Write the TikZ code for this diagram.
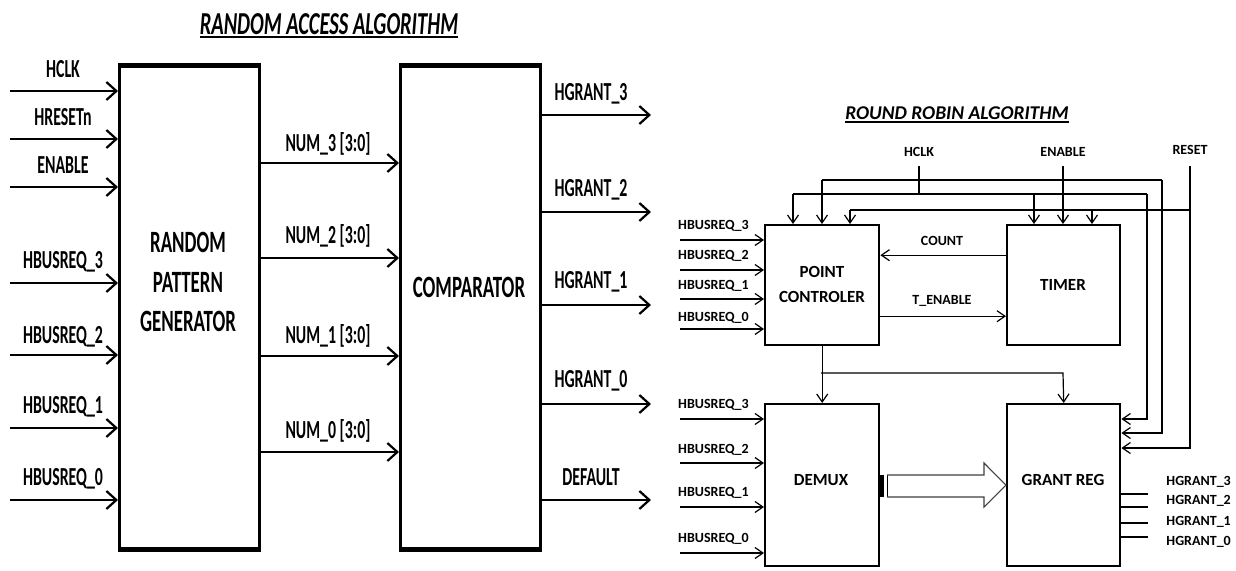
\documentclass[tikz,border=0pt]{standalone}
\usepackage{fontspec}
\setmainfont{Carlito}
\newfontfamily\condf{Carlito}[FakeStretch=0.61]
\newfontfamily\titf{Carlito}[FakeStretch=0.64]
\newfontfamily\normf{Carlito}
\usetikzlibrary{arrows.meta}
\begin{document}
\begin{tikzpicture}[x=1pt,y=-1pt,
  lbox/.style={draw, line width=2.8pt, inner sep=0pt, anchor=north west},
  rbox/.style={draw, line width=2.4pt, inner sep=0pt, anchor=north west},
  arrL/.style={line width=2.6pt, -{Straight Barb[length=10pt,width=18pt,line width=2.2pt]}},
  arrR/.style={line width=1.2pt, -{Straight Barb[length=8pt,width=11pt,line width=1.2pt]}},
  wire/.style={line width=1.2pt},
  llab/.style={font=\condf\bfseries\fontsize{26}{26}\selectfont, inner sep=0pt, text height=16pt, text depth=0pt},
  lbig/.style={font=\condf\bfseries\fontsize{31}{31}\selectfont, inner sep=0pt, text height=19pt, text depth=0pt},
  ltitle/.style={font=\titf\bfseries\itshape\fontsize{32}{32}\selectfont, inner sep=0pt, text height=20pt, text depth=0pt},
  rtitle/.style={font=\normf\bfseries\itshape\fontsize{19.5}{19.5}\selectfont, inner sep=0pt, text height=12.5pt, text depth=0pt},
  rlab/.style={font=\normf\bfseries\fontsize{14}{14}\selectfont, inner sep=0pt, text height=9pt, text depth=0pt},
  rbig/.style={font=\normf\bfseries\fontsize{17}{17}\selectfont, inner sep=0pt, text height=11pt, text depth=0pt},
]
\useasboundingbox (0,0) rectangle (1236,570);
\fill[white] (0,0) rectangle (1236,570);

% ================= RANDOM ACCESS ALGORITHM =================
\node[ltitle] (t1) at (329,24) {RANDOM ACCESS ALGORITHM};
\draw[line width=2pt] ([yshift=-3pt]t1.south west) -- ([yshift=-3pt]t1.south east);

\node[lbox, minimum width=140pt, minimum height=482pt] (rpg) at (118,65) {};
\node[lbox, minimum width=140pt, minimum height=482pt] (cmp) at (399,65) {};
\draw[line width=3.6pt] (rpg.north west) -- (rpg.north east);
\draw[line width=3.6pt] (rpg.south west) -- (rpg.south east);
\draw[line width=3.6pt] (cmp.north west) -- (cmp.north east);
\draw[line width=3.6pt] (cmp.south west) -- (cmp.south east);

\node[lbig] (rpg1) at (188,243) {RANDOM};
\node[lbig] (rpg2) at (188,283) {PATTERN};
\node[lbig] (rpg3) at (188,322) {GENERATOR};
\node[lbig] (cmpt) at (469,288) {COMPARATOR};

\foreach \n/\t/\ly/\ay in {a/HCLK/69/91, b/HRESETn/117/139, c/ENABLE/165/187,
  d/HBUSREQ\_3/260/283, e/HBUSREQ\_2/335/355, f/HBUSREQ\_1/405/428, g/HBUSREQ\_0/477/500} {
  \node[llab] (l\n) at (63,\ly) {\t};
  \coordinate (s\n) at (10,\ay);
  \draw[arrL] (s\n) -- (s\n -| rpg.west);
}

\foreach \n/\ly/\ay in {3/143/163, 2/235/258, 1/335/356, 0/430/452} {
  \node[llab] (nl\n) at (328,\ly) {NUM\_\n{} [3:0]};
  \coordinate (n\n) at (258,\ay);
  \draw[arrL] (n\n) -- (n\n -| cmp.west);
}

\foreach \n/\t/\ly/\ay in {3/HGRANT\_3/92/115, 2/HGRANT\_2/188/212, 1/HGRANT\_1/280/305,
  0/HGRANT\_0/379/404, d/DEFAULT/477/500} {
  \node[llab] (ol\n) at (591,\ly) {\t};
  \coordinate (os\n) at (539,\ay);
  \coordinate (oe\n) at (651,\ay);
  \draw[arrL] (os\n) -- (oe\n);
}

% ================= ROUND ROBIN ALGORITHM =================
\node[rtitle] (t2) at (957,113) {ROUND ROBIN ALGORITHM};
\draw[line width=1.6pt] ([yshift=-2.5pt]t2.south west) -- ([yshift=-2.5pt]t2.south east);

\node[rbox, minimum width=114pt, minimum height=120pt] (pc) at (764,224) {};
\node[rbox, minimum width=113pt, minimum height=120pt] (tm) at (1006,224) {};
\node[rbox, minimum width=114pt, minimum height=162pt] (dm) at (764,403) {};
\node[rbox, minimum width=113pt, minimum height=162pt] (gr) at (1006,403) {};

\node[rbig] (pct1) at (822,272) {POINT};
\node[rbig] (pct2) at (822,297) {CONTROLER};
\node[rbig] (tmt) at (1063,285) {TIMER};
\node[rbig] (dmt) at (821,480) {DEMUX};
\node[rbig] (grt) at (1063,480) {GRANT REG};

\node[rlab] (hclk) at (919,152) {HCLK};
\node[rlab] (enab) at (1063,152) {ENABLE};
\node[rlab] (rset) at (1190,150) {RESET};

% HCLK bus
\coordinate (hclkT) at (919,166);
\coordinate (hb1) at (793,194);
\coordinate (hb2) at (1034,194);
\coordinate (hb3) at (1147,194);
\coordinate (hb4) at (1147,419);
\draw[wire] (hclkT) -- (hclkT |- hb1);
\draw[wire] (hb1) -- (hb3);
\draw[arrR] (hb1) -- (hb1 |- pc.north);
\draw[arrR] (hb2) -- (hb2 |- tm.north);
\draw[arrR] (hb3) -- (hb4) -- (hb4 -| gr.east);

% ENABLE bus
\coordinate (enT) at (1063,166);
\coordinate (eb1) at (822,180);
\coordinate (eb3) at (1162,180);
\coordinate (eb4) at (1162,433);
\draw[arrR] (enT) -- (enT |- tm.north);
\draw[wire] (eb1) -- (eb3);
\draw[arrR] (eb1) -- (eb1 |- pc.north);
\draw[arrR] (eb3) -- (eb4) -- (eb4 -| gr.east);

% RESET bus
\coordinate (rsT) at (1190,166);
\coordinate (rb1) at (850,210);
\coordinate (rb2) at (1092,210);
\coordinate (rb3) at (1190,210);
\coordinate (rb4) at (1190,448);
\draw[wire] (rb1) -- (rb3);
\draw[arrR] (rsT) -- (rb4) -- (rb4 -| gr.east);
\draw[arrR] (rb1) -- (rb1 |- pc.north);
\draw[arrR] (rb2) -- (rb2 |- tm.north);

% COUNT / T_ENABLE
\draw[arrR] ([yshift=30pt]tm.west) -- ([yshift=30pt]pc.east);
\draw[arrR] ([yshift=-31pt]pc.east) -- ([yshift=-31pt]tm.west);
\node[rlab] (cntl) at (942,241) {COUNT};
\node[rlab] (tenl) at (942,300) {T\_ENABLE};

% PC -> DEMUX, GRANT REG
\coordinate (pj) at (821,373);
\coordinate (pg) at (1063,373);
\draw[arrR] (pc.south) -- (dm.north);
\draw[arrR] (pj) -- (pg) -- (gr.north);

% PC inputs
\foreach \i/\ly/\ay in {3/225/240, 2/255/270, 1/285/299, 0/317/329} {
  \node[rlab, anchor=west] (pl\i) at (678,\ly) {HBUSREQ\_\i};
  \coordinate (pi\i) at (680,\ay);
  \draw[arrR] (pi\i) -- (pi\i -| pc.west);
}
% DEMUX inputs
\foreach \i/\ly/\ay in {3/404/419, 2/449/463, 1/492/507, 0/538/553} {
  \node[rlab, anchor=west] (dl\i) at (678,\ly) {HBUSREQ\_\i};
  \coordinate (di\i) at (680,\ay);
  \draw[arrR] (di\i) -- (di\i -| dm.west);
}

% hollow bus arrow DEMUX -> GRANT REG
\fill (878,475) rectangle (884,497);
\draw[line width=1pt] (887,475) -- (887,497);
\draw[line width=1.1pt, black!75] (887,475) -- (984,475) -- (984,463) -- (gr.west) -- (984,507) -- (984,497) -- (887,497);

% GRANT REG outputs
\foreach \i/\ly/\ay in {3/481/494, 2/500/507, 1/521/523, 0/541/537} {
  \node[rlab, anchor=east] (gl\i) at (1231,\ly) {HGRANT\_\i};
  \coordinate (go\i) at (1148,\ay);
  \draw[wire] (go\i -| gr.east) -- (go\i);
}
\end{tikzpicture}
\end{document}
